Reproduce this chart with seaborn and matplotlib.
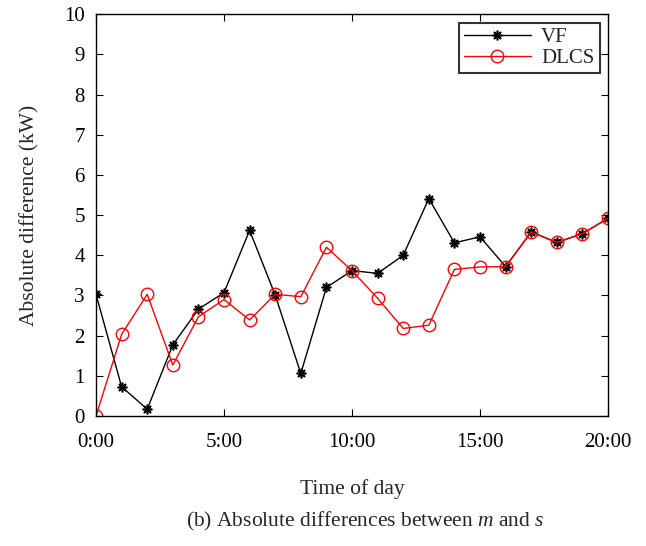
import matplotlib
matplotlib.use("Agg")
import matplotlib.pyplot as plt
import seaborn as sns
import pandas as pd

hours = list(range(21))
vf = [3.03, 0.73, 0.17, 1.77, 2.66, 3.07, 4.62, 3.01, 1.06, 3.2, 3.62,
      3.55, 4.0, 5.41, 4.31, 4.46, 3.72, 4.58, 4.32, 4.54, 4.92]
dlcs = [0.0, 2.03, 3.03, 1.27, 2.47, 2.9, 2.39, 3.03, 2.97, 4.2, 3.62,
        2.93, 2.18, 2.26, 3.65, 3.71, 3.72, 4.58, 4.32, 4.54, 4.92]
xtick_pos = [0, 5, 10, 15, 20]
xtick_labels = ["0:00", "5:00", "10:00", "15:00", "20:00"]

sns.set_style("ticks")
plt.rcParams['font.family'] = ['Liberation Serif', 'DejaVu Serif']
plt.rcParams['mathtext.fontset'] = 'custom'
plt.rcParams['mathtext.rm'] = 'Liberation Serif'
plt.rcParams['mathtext.it'] = 'Liberation Serif:italic'

fig = plt.figure(figsize=(6.46, 5.46), dpi=100)
ax = fig.add_axes([0.1486, 0.238, 0.7926, 0.736])

asterisk = (8, 2, 0)
df_vf = pd.DataFrame({"h": hours, "v": vf})
df_dl = pd.DataFrame({"h": hours, "v": dlcs})
sns.lineplot(data=df_vf, x="h", y="v", ax=ax, color="black", marker=asterisk,
             markersize=7, markeredgecolor="black", markeredgewidth=1.2,
             linewidth=1.0, label="VF")
sns.lineplot(data=df_dl, x="h", y="v", ax=ax, color="#ff0000", marker="o",
             markersize=9, markeredgecolor="#ff0000", markerfacecolor="none",
             markeredgewidth=1.0, linewidth=1.0, label="DLCS")

ax.set_xlim(0, 20)
ax.set_ylim(0, 10)
ax.set_xticks(xtick_pos)
ax.set_xticklabels(xtick_labels)
ax.set_yticks(range(11))
ax.tick_params(direction="in", top=True, right=True, labelsize=15,
               length=5, width=0.8, colors="black")
ax.tick_params(axis="x", pad=12)
ax.tick_params(axis="y", pad=8)
for s in ax.spines.values():
    s.set_linewidth(1.0)
    s.set_color("black")
ax.set_xlabel("Time of day", fontsize=15.5, labelpad=20)
ax.set_ylabel("Absolute difference (kW)", fontsize=15.5, labelpad=18)

leg = ax.legend(loc="upper right", fontsize=15, frameon=True, fancybox=False,
                borderpad=0.25, handlelength=3.2, handletextpad=0.5,
                labelspacing=0.05, borderaxespad=0.4)
leg.get_frame().set_edgecolor("black")
leg.get_frame().set_linewidth(1.5)

fig.text(0.565, 0.044, r"(b) Absolute differences between $m$ and $s$",
         ha="center", va="center", fontsize=15.5)

fig.savefig("out.png", dpi=100)
